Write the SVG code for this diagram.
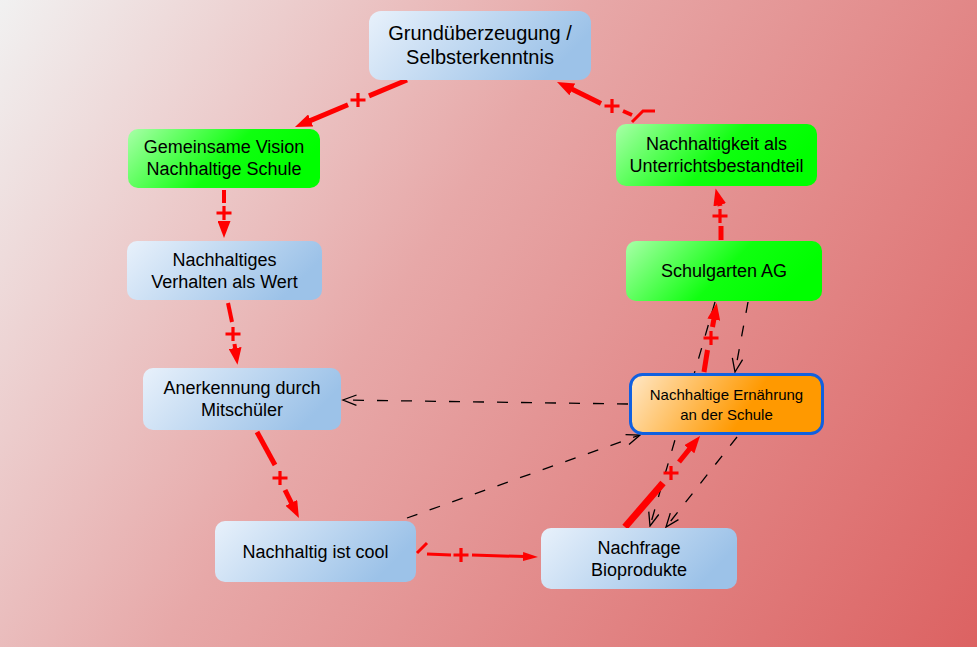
<svg xmlns="http://www.w3.org/2000/svg" width="977" height="647" viewBox="0 0 977 647">
<defs>
<linearGradient id="bg" gradientUnits="userSpaceOnUse" x1="0" y1="0" x2="977" y2="647">
<stop offset="0" stop-color="#f1f1f1"/>
<stop offset="0.42" stop-color="#e7a8a8"/>
<stop offset="1" stop-color="#dc6262"/>
</linearGradient>
<linearGradient id="blue" x1="0" y1="0" x2="1" y2="0.3">
<stop offset="0" stop-color="#e8f1fb"/>
<stop offset="1" stop-color="#9cc2e8"/>
</linearGradient>
<linearGradient id="green" x1="0" y1="0" x2="1" y2="0.3">
<stop offset="0" stop-color="#a8ffa8"/>
<stop offset="0.6" stop-color="#10ff10"/>
<stop offset="1" stop-color="#00ff00"/>
</linearGradient>
<linearGradient id="orange" x1="0" y1="0" x2="1" y2="0.2">
<stop offset="0" stop-color="#ffe8c8"/>
<stop offset="0.7" stop-color="#ff9900"/>
<stop offset="1" stop-color="#ff9900"/>
</linearGradient>
<marker id="rb" viewBox="0 0 17 13" refX="3" refY="6.5" markerWidth="17" markerHeight="13" orient="auto" markerUnits="userSpaceOnUse">
<path d="M0,0 L17,6.5 L0,13 z" fill="#ff0000"/>
</marker>
<marker id="rs" viewBox="0 0 15 9" refX="2" refY="4.5" markerWidth="15" markerHeight="9" orient="auto" markerUnits="userSpaceOnUse">
<path d="M0,0 L15,4.5 L0,9 z" fill="#ff0000"/>
</marker>
<marker id="ko" viewBox="0 0 16 12" refX="14.5" refY="6" markerWidth="16" markerHeight="12" orient="auto" markerUnits="userSpaceOnUse">
<path d="M1,0.8 L14.5,6 L1,11.2" fill="none" stroke="#000" stroke-width="1.3"/>
</marker>
<path id="plus" d="M-7.5,0H7.5M0,-7V7" fill="none" stroke="#ff0000" stroke-width="3.2"/>
</defs>
<style>
.box{stroke:none}
.t{font-family:"Liberation Sans",Arial,sans-serif;font-size:18px;fill:#000;text-anchor:middle;dominant-baseline:central}
.red{fill:none;stroke:#ff0000;stroke-linecap:butt}
.dash{fill:none;stroke:#000;stroke-width:1.3;stroke-dasharray:11 13}
</style>
<rect x="0" y="0" width="977" height="647" fill="url(#bg)"/>

<g id="connectors">
<path class="dash" d="M628,404 L343,400" marker-end="url(#ko)"/>
<path class="dash" d="M407,518 L640,435" marker-end="url(#ko)"/>
<path class="dash" d="M748,302 L735,372" marker-end="url(#ko)"/>
<path class="dash" d="M715,302 L650,526" marker-end="url(#ko)"/>
<path class="dash" d="M737,437 L666,527" marker-end="url(#ko)"/>
<path class="red" stroke-width="5" d="M407,80 L369,95.9"/>
<path class="red" stroke-width="5" d="M348,104.8 L307.9,121.6" marker-end="url(#rb)"/>
<use href="#plus" x="358" y="100"/>
<path class="red" stroke-width="5" d="M601,103.5 L569.6,88.1" marker-end="url(#rb)"/>
<use href="#plus" x="612" y="106"/>
<path class="red" stroke-width="4" d="M623,111 L632,115"/>
<path class="red" stroke-width="3" d="M632,122 L643,111 L655,111"/>
<path class="red" stroke-width="4" d="M224,190 L224,203"/>
<path class="red" stroke-width="4" d="M224,223 L224,224" marker-end="url(#rb)"/>
<use href="#plus" x="224" y="213"/>
<path class="red" stroke-width="4" d="M228,303 L232,322"/>
<path class="red" stroke-width="4" d="M234.5,344 L235.5,351" marker-end="url(#rb)"/>
<use href="#plus" x="233" y="334"/>
<path class="red" stroke-width="5" d="M257,432 L275,465"/>
<path class="red" stroke-width="5" d="M285,490 L292.7,505.5" marker-end="url(#rb)"/>
<use href="#plus" x="280" y="478"/>
<path class="red" stroke-width="3" d="M417,553 L427,543"/>
<path class="red" stroke-width="3" d="M427,554 L451,555"/>
<path class="red" stroke-width="3" d="M472,555 L525,556.6" marker-end="url(#rs)"/>
<use href="#plus" x="461" y="555"/>
<path class="red" stroke-width="7" d="M625,527 L663,483"/>
<path class="red" stroke-width="5" d="M679,462 L691.2,446.9" marker-end="url(#rb)"/>
<use href="#plus" x="671" y="473"/>
<path class="red" stroke-width="5" d="M704,372 L707.5,350"/>
<path class="red" stroke-width="5" d="M712.5,327 L714.3,316.7" marker-end="url(#rb)"/>
<use href="#plus" x="711" y="338"/>
<path class="red" stroke-width="5" d="M721,240 L721,226"/>
<path class="red" stroke-width="5" d="M720,206 L719,202" marker-end="url(#rb)"/>
<use href="#plus" x="720" y="216"/>
</g>

<g id="n-grund">
<rect class="box" x="369" y="11" width="222" height="69" rx="12" fill="url(#blue)"/>
<text class="t" style="font-size:20px" x="480" y="33">Grundüberzeugung /</text>
<text class="t" style="font-size:20px" x="480" y="57">Selbsterkenntnis</text>
</g>
<g id="n-vision">
<rect class="box" x="128" y="129" width="192" height="59" rx="10" fill="url(#green)"/>
<text class="t" x="224" y="147">Gemeinsame Vision</text>
<text class="t" x="224" y="169">Nachhaltige Schule</text>
</g>
<g id="n-verhalten">
<rect class="box" x="127" y="241" width="195" height="59" rx="10" fill="url(#blue)"/>
<text class="t" x="224.5" y="259.5">Nachhaltiges</text>
<text class="t" x="224.5" y="281.5">Verhalten als Wert</text>
</g>
<g id="n-anerkennung">
<rect class="box" x="143" y="368" width="198" height="62" rx="10" fill="url(#blue)"/>
<text class="t" x="242" y="388">Anerkennung durch</text>
<text class="t" x="242" y="410">Mitschüler</text>
</g>
<g id="n-cool">
<rect class="box" x="215" y="521" width="201" height="61" rx="10" fill="url(#blue)"/>
<text class="t" x="315.5" y="551.5">Nachhaltig ist cool</text>
</g>
<g id="n-nachfrage">
<rect class="box" x="541" y="528" width="196" height="61" rx="10" fill="url(#blue)"/>
<text class="t" x="639" y="548">Nachfrage</text>
<text class="t" x="639" y="570">Bioprodukte</text>
</g>
<g id="n-ernaehrung">
<rect x="630.5" y="374.5" width="192" height="59" rx="12" fill="url(#orange)" stroke="#1060e0" stroke-width="3"/>
<text class="t" style="font-size:15px" x="726.5" y="394">Nachhaltige Ernährung</text>
<text class="t" style="font-size:15px" x="726.5" y="414">an der Schule</text>
</g>
<g id="n-schulgarten">
<rect class="box" x="626" y="241" width="196" height="60" rx="10" fill="url(#green)"/>
<text class="t" x="724" y="271">Schulgarten AG</text>
</g>
<g id="n-unterricht">
<rect class="box" x="616" y="124" width="201" height="62" rx="10" fill="url(#green)"/>
<text class="t" x="716.5" y="144">Nachhaltigkeit als</text>
<text class="t" x="716.5" y="166">Unterrichtsbestandteil</text>
</g>
</svg>
